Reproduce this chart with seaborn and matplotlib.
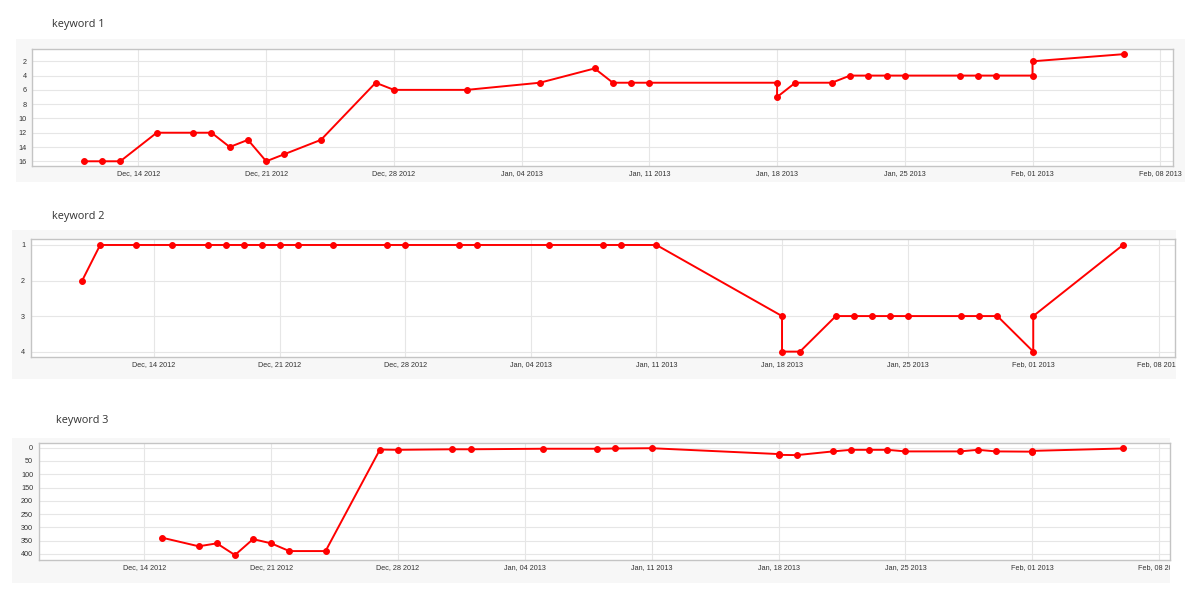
import pandas as pd
import numpy as np
import matplotlib
matplotlib.use("Agg")
import matplotlib.pyplot as plt
import matplotlib.dates as mdates
from matplotlib.ticker import MultipleLocator
from matplotlib.patches import Rectangle
from matplotlib.transforms import Bbox, TransformedBbox
import seaborn as sns

# ----------------------------------------------------------------------------
# Data (rank per day for each keyword)
# ----------------------------------------------------------------------------
titles = ["keyword 1", "keyword 2", "keyword 3"]

dates1 = ["2012-12-11", "2012-12-12", "2012-12-13", "2012-12-15", "2012-12-17",
          "2012-12-18", "2012-12-19", "2012-12-20", "2012-12-21", "2012-12-22",
          "2012-12-24", "2012-12-27", "2012-12-28", "2013-01-01", "2013-01-05",
          "2013-01-08", "2013-01-09", "2013-01-10", "2013-01-11", "2013-01-18",
          "2013-01-18", "2013-01-19", "2013-01-21", "2013-01-22", "2013-01-23",
          "2013-01-24", "2013-01-25", "2013-01-28", "2013-01-29", "2013-01-30",
          "2013-02-01", "2013-02-01", "2013-02-06"]
rank1 = [16, 16, 16, 12, 12, 12, 14, 13, 16, 15, 13, 5, 6, 6, 5, 3, 5, 5, 5,
         5, 7, 5, 5, 4, 4, 4, 4, 4, 4, 4, 4, 2, 1]

dates2 = ["2012-12-10", "2012-12-11", "2012-12-13", "2012-12-15", "2012-12-17",
          "2012-12-18", "2012-12-19", "2012-12-20", "2012-12-21", "2012-12-22",
          "2012-12-24", "2012-12-27", "2012-12-28", "2012-12-31", "2013-01-01",
          "2013-01-05", "2013-01-08", "2013-01-09", "2013-01-11", "2013-01-18",
          "2013-01-18", "2013-01-19", "2013-01-21", "2013-01-22", "2013-01-23",
          "2013-01-24", "2013-01-25", "2013-01-28", "2013-01-29", "2013-01-30",
          "2013-02-01", "2013-02-01", "2013-02-06"]
rank2 = [2, 1, 1, 1, 1, 1, 1, 1, 1, 1, 1, 1, 1, 1, 1, 1, 1, 1, 1,
         3, 4, 4, 3, 3, 3, 3, 3, 3, 3, 3, 4, 3, 1]

dates3 = ["2012-12-15", "2012-12-17", "2012-12-18", "2012-12-19", "2012-12-20",
          "2012-12-21", "2012-12-22", "2012-12-24", "2012-12-27", "2012-12-28",
          "2012-12-31", "2013-01-01", "2013-01-05", "2013-01-08", "2013-01-09",
          "2013-01-11", "2013-01-18", "2013-01-18", "2013-01-19", "2013-01-21",
          "2013-01-22", "2013-01-23", "2013-01-24", "2013-01-25", "2013-01-28",
          "2013-01-29", "2013-01-30", "2013-02-01", "2013-02-01", "2013-02-06"]
rank3 = [339, 371, 360, 404, 344, 360, 389, 389, 7, 8, 6, 6, 4, 4, 3, 2,
         24, 27, 28, 14, 8, 8, 8, 14, 14, 8, 14, 15, 12, 3]

series = [(dates1, rank1), (dates2, rank2), (dates3, rank3)]
y_steps = [2, 1, 50]

# ----------------------------------------------------------------------------
# Layout (pixel boxes of the original screenshot)
# ----------------------------------------------------------------------------
W, H = 1200, 607
REF = pd.Timestamp("2012-12-14")
panels = [
    # gray box (x0, y0, x1, y1), plot area (x0, y0, x1, y1), title xy, xlim days, ylim
    dict(box=(16, 39, 1185, 182), ax=(32.3, 49.3, 1173, 166), title=(52, 24),
         xlim=(-5.82, 56.7), ylim=(16.66, 0.32)),
    dict(box=(12, 230, 1176, 379), ax=(30.7, 239.3, 1175, 357.3), title=(52, 217),
         xlim=(-6.87, 56.9), ylim=(4.16, 0.84)),
    dict(box=(12, 438, 1170, 583), ax=(38.7, 443.3, 1170, 560), title=(56, 421),
         xlim=(-5.83, 56.6), ylim=(422.6, -16.5)),
]

RED = "#ff0000"
GRID = "#e6e6e6"
EDGE = "#c4c4c4"


def px_rect(x0, y0, x1, y1):
    return [x0 / W, 1 - y1 / H, (x1 - x0) / W, (y1 - y0) / H]


sns.set_style("white")
plt.rcParams["font.family"] = ["Liberation Sans", "DejaVu Sans"]

fig = plt.figure(figsize=(W / 100, H / 100), dpi=100)
fig.patch.set_facecolor("white")

for i, (p, (dates, ranks)) in enumerate(zip(panels, series)):
    bx = px_rect(*p["box"])
    bg = Rectangle((bx[0], bx[1]), bx[2], bx[3], transform=fig.transFigure,
                   facecolor="#f7f7f7", edgecolor="none", zorder=-10)
    fig.patches.append(bg)

    ax = fig.add_axes(px_rect(*p["ax"]))
    ax.set_zorder(1)
    df = pd.DataFrame({"date": pd.to_datetime(dates), "rank": ranks})
    sns.lineplot(data=df, x="date", y="rank", ax=ax, estimator=None, sort=False,
                 color=RED, linewidth=1.4, marker="o", markersize=4.2,
                 markeredgecolor=RED, markerfacecolor=RED)

    ax.set_facecolor("white")
    ax.set_xlim(REF + pd.Timedelta(days=p["xlim"][0]),
                REF + pd.Timedelta(days=p["xlim"][1]))
    ax.set_ylim(*p["ylim"])
    ax.xaxis.set_major_locator(mdates.WeekdayLocator(byweekday=mdates.FR))
    ax.xaxis.set_major_formatter(mdates.DateFormatter("%b, %d %Y"))
    ax.yaxis.set_major_locator(MultipleLocator(y_steps[i]))
    ax.set_xlabel("")
    ax.set_ylabel("")
    ax.grid(True, color=GRID, linewidth=0.8)
    ax.set_axisbelow(True)
    ax.tick_params(axis="both", length=0, labelsize=5.2, labelcolor="#333333")
    ax.tick_params(axis="x", pad=3)
    ax.tick_params(axis="y", pad=4)
    for s in ax.spines.values():
        s.set_color(EDGE)
        s.set_linewidth(1.0)

    clip = TransformedBbox(Bbox.from_bounds(*bx), fig.transFigure)
    for lab in ax.get_xticklabels():
        lab.set_clip_on(True)
        lab.set_clip_box(clip)

    tx, ty = p["title"]
    fig.text(tx / W, 1 - ty / H, titles[i], fontsize=7.8, color="#333333",
             va="center", ha="left", family=["Open Sans", "DejaVu Sans"])

fig.savefig("out.png", dpi=100)
